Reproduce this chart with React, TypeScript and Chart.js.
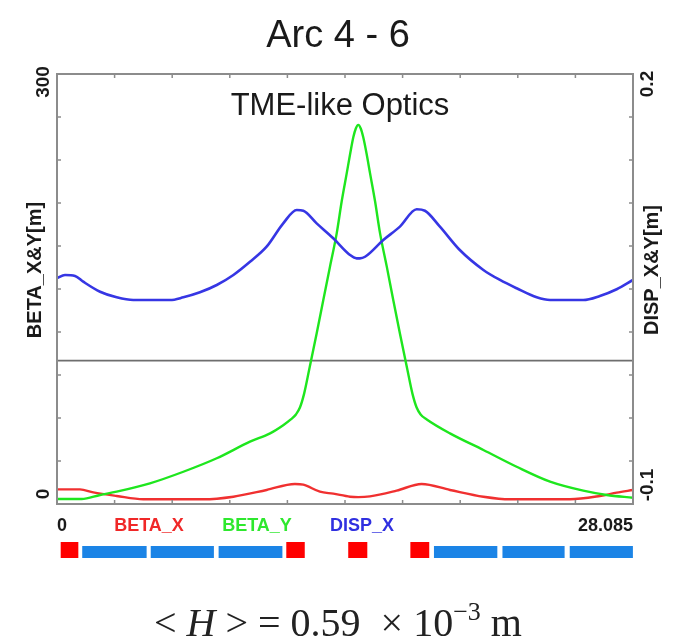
import React, { useEffect, useRef } from 'react';
import { Chart, registerables } from 'chart.js';

Chart.register(...registerables);

const S_MAX = 28.085;

// DISP_X [m] (right axis)
const dispXPos = [0, 0.39, 0.88, 1.28, 2.1, 2.91, 3.72, 5.51, 6.16, 6.97, 7.79, 8.6, 9.41, 10.22, 11.03, 11.69, 12.01, 12.66, 13.47, 14.29, 14.61, 14.77, 15.02, 15.91, 16.72, 17.54, 17.94, 18.67, 19.64, 20.79, 21.6, 22.41, 23.39, 24.04, 25.66, 26.47, 27.29, 28.085];
const dispXVal = [0.0575, 0.0598, 0.0591, 0.0551, 0.0481, 0.0442, 0.0423, 0.0423, 0.0442, 0.0477, 0.0528, 0.0598, 0.069, 0.0795, 0.0958, 0.1051, 0.1046, 0.0958, 0.0854, 0.0737, 0.0714, 0.0714, 0.0725, 0.0842, 0.0935, 0.1056, 0.1046, 0.0935, 0.0772, 0.0633, 0.0563, 0.0505, 0.0442, 0.0423, 0.0423, 0.0451, 0.0498, 0.0563];

// BETA_Y [m] (left axis)
const betaYPos = [0, 1.2, 2.1, 2.91, 4.53, 6.16, 7.79, 9.41, 10.39, 11.03, 11.4, 11.65, 11.85, 12.05, 12.3, 12.66, 12.98, 13.31, 13.64, 13.88, 14.13, 14.29, 14.45, 14.57, 14.69, 14.81, 14.93, 15.1, 15.26, 15.51, 15.75, 16.08, 16.4, 16.72, 17.08, 17.33, 17.53, 17.73, 18.03, 19.16, 20.79, 22.41, 24.04, 25.66, 26.8, 28.085];
const betaYVal = [3.5, 3.5, 6.3, 8.6, 14.4, 22.5, 31.9, 43.5, 49.3, 55, 59, 62.5, 67.5, 77, 94, 119, 142, 165.6, 189, 211, 231, 244, 256, 262, 264.5, 262, 256, 244, 231, 211, 189, 165.6, 142, 119, 94, 77, 67.5, 62.5, 59, 49.3, 37.7, 26, 15.6, 9.3, 6.3, 4.4];

// BETA_X [m] (left axis)
const betaXPos = [0, 1.12, 1.77, 2.91, 4.21, 7.13, 8.6, 10.22, 11.6, 12.01, 12.82, 13.47, 14.29, 14.69, 15.26, 16.56, 17.78, 19.16, 20.79, 22.09, 25.01, 26.47, 27.29, 28.085];
const betaXVal = [10.2, 10.2, 8.1, 5.6, 3.3, 3.3, 5.1, 9.8, 14, 13.5, 8.6, 7.2, 5.1, 4.8, 5.3, 9.3, 14, 9.8, 5.1, 3.3, 3.3, 5.6, 7.9, 9.8];

// Tick positions
const xTickVals = [0, 2.8085, 5.617, 8.4255, 11.234, 14.0425, 16.851, 19.6595, 22.468, 25.2765, 28.085];
const betaTickVals = [0, 30, 60, 90, 120, 150, 180, 210, 240, 270, 300];
const dispTickVals = [-0.1, -0.07, -0.04, -0.01, 0.02, 0.05, 0.08, 0.11, 0.14, 0.17, 0.2];

// Lattice elements (Q = quadrupole, B = bend)
const elemStart = [0.18, 1.23, 4.57, 7.88, 11.18, 14.2, 17.23, 18.38, 21.72, 25.0];
const elemEnd = [1.04, 4.37, 7.65, 10.99, 12.08, 15.13, 18.15, 21.47, 24.75, 28.08];
const elemKind = ['Q', 'B', 'B', 'B', 'Q', 'Q', 'Q', 'B', 'B', 'B'];

const legendLabels = ['BETA_X', 'BETA_Y', 'DISP_X'];
const legendColors = ['#f02828', '#2ee82e', '#3030e0'];
const legendCenters = [149, 257, 362];

const SANS = '"Liberation Sans", Arial, sans-serif';
const SERIF = '"Liberation Serif", "Times New Roman", serif';

function vText(ctx: CanvasRenderingContext2D, text: string, cx: number, cy: number, font: string, color: string) {
  ctx.save();
  ctx.translate(cx, cy);
  ctx.rotate(-Math.PI / 2);
  ctx.font = font;
  ctx.fillStyle = color;
  ctx.textAlign = 'center';
  ctx.textBaseline = 'middle';
  ctx.fillText(text, 0, 0);
  ctx.restore();
}

const decor = {
  id: 'decor',
  beforeDraw(chart: any) {
    const { ctx, width, height } = chart;
    ctx.save();
    ctx.fillStyle = '#ffffff';
    ctx.fillRect(0, 0, width, height);
    ctx.restore();
  },
  afterDatasetsDraw(chart: any) {
    const { ctx, chartArea: a, scales } = chart;
    const x = scales.x;
    const y = scales.y;
    const y2 = scales.y2;
    ctx.save();
    // frame
    ctx.strokeStyle = '#8c8c8c';
    ctx.lineWidth = 2;
    ctx.strokeRect(a.left, a.top, a.right - a.left, a.bottom - a.top);
    // inward ticks
    ctx.lineWidth = 1.5;
    ctx.beginPath();
    xTickVals.forEach((v) => {
      const px = x.getPixelForValue(v);
      ctx.moveTo(px, a.bottom);
      ctx.lineTo(px, a.bottom - 4);
      ctx.moveTo(px, a.top);
      ctx.lineTo(px, a.top + 4);
    });
    betaTickVals.forEach((v) => {
      const py = y.getPixelForValue(v);
      ctx.moveTo(a.left, py);
      ctx.lineTo(a.left + 4, py);
    });
    dispTickVals.forEach((v) => {
      const py = y2.getPixelForValue(v);
      ctx.moveTo(a.right, py);
      ctx.lineTo(a.right - 4, py);
    });
    ctx.stroke();

    // title
    ctx.fillStyle = '#1a1a1a';
    ctx.textAlign = 'center';
    ctx.textBaseline = 'alphabetic';
    ctx.font = `38px ${SANS}`;
    ctx.fillText('Arc 4 - 6', 338, 47);
    ctx.font = `31px ${SANS}`;
    ctx.fillText('TME-like Optics', 340, 115);

    // axis titles and end labels
    vText(ctx, 'BETA_X&Y[m]', 35, 270, `bold 20px ${SANS}`, '#1a1a1a');
    vText(ctx, 'DISP_X&Y[m]', 652, 270, `bold 20px ${SANS}`, '#1a1a1a');
    vText(ctx, String(betaTickVals[betaTickVals.length - 1]), 44, 82, `bold 19px ${SANS}`, '#1a1a1a');
    vText(ctx, String(betaTickVals[0]), 44, 494, `bold 19px ${SANS}`, '#1a1a1a');
    vText(ctx, String(dispTickVals[dispTickVals.length - 1]), 648, 84, `bold 19px ${SANS}`, '#1a1a1a');
    vText(ctx, String(dispTickVals[0]), 648, 485, `bold 19px ${SANS}`, '#1a1a1a');

    // bottom axis labels and legend
    ctx.font = `bold 18px ${SANS}`;
    ctx.textBaseline = 'alphabetic';
    ctx.fillStyle = '#1a1a1a';
    ctx.textAlign = 'left';
    ctx.fillText('0', x.getPixelForValue(0), 531);
    ctx.textAlign = 'right';
    ctx.fillText(String(S_MAX), x.getPixelForValue(S_MAX), 531);
    ctx.textAlign = 'center';
    legendLabels.forEach((l, i) => {
      ctx.fillStyle = legendColors[i];
      ctx.fillText(l, legendCenters[i], 531);
    });

    // lattice elements
    elemStart.forEach((s, i) => {
      const x0 = x.getPixelForValue(s);
      const x1 = x.getPixelForValue(elemEnd[i]);
      if (elemKind[i] === 'Q') {
        ctx.fillStyle = '#ff0000';
        ctx.fillRect(x0, 542, x1 - x0, 16);
      } else {
        ctx.fillStyle = '#1b84e6';
        ctx.fillRect(x0, 546, x1 - x0, 12);
      }
    });

    // formula
    const parts = [
      { t: '< ', f: `40px ${SERIF}`, dy: 0 },
      { t: 'H', f: `italic 40px ${SERIF}`, dy: 0 },
      { t: ' > = 0.59  × 10', f: `40px ${SERIF}`, dy: 0 },
      { t: '−3', f: `26px ${SERIF}`, dy: -16 },
      { t: ' m', f: `40px ${SERIF}`, dy: 0 },
    ];
    let total = 0;
    parts.forEach((p) => {
      ctx.font = p.f;
      total += ctx.measureText(p.t).width;
    });
    let cx = 338 - total / 2;
    ctx.textAlign = 'left';
    ctx.fillStyle = '#222222';
    parts.forEach((p) => {
      ctx.font = p.f;
      ctx.fillText(p.t, cx, 636 + p.dy);
      cx += ctx.measureText(p.t).width;
    });
    ctx.restore();
  },
};

function zeroFit(scale: any) {
  if (scale.isHorizontal()) scale.height = 0;
  else scale.width = 0;
}

export default function App() {
  const ref = useRef<HTMLCanvasElement>(null);
  useEffect(() => {
    document.body.style.margin = '0';
    if (!ref.current) return;
    const pts = (xs: number[], ys: number[]) => xs.map((s, i) => ({ x: s, y: ys[i] }));
    const axisCommon = {
      display: true,
      grid: { display: false, drawTicks: false },
      ticks: { display: false },
      border: { display: false },
      afterFit: zeroFit,
    };
    const chart = new Chart(ref.current, {
      type: 'line',
      data: {
        datasets: [
          {
            label: 'DISP_X',
            data: pts(dispXPos, dispXVal),
            yAxisID: 'y2',
            borderColor: '#3636e4',
            borderWidth: 2.6,
            pointRadius: 0,
            cubicInterpolationMode: 'monotone',
          },
          {
            label: 'BETA_Y',
            data: pts(betaYPos, betaYVal),
            yAxisID: 'y',
            borderColor: '#1ee61e',
            borderWidth: 2.4,
            pointRadius: 0,
            cubicInterpolationMode: 'monotone',
          },
          {
            label: 'BETA_X',
            data: pts(betaXPos, betaXVal),
            yAxisID: 'y',
            borderColor: '#f03030',
            borderWidth: 2.4,
            pointRadius: 0,
            cubicInterpolationMode: 'monotone',
          },
          {
            label: 'zero',
            data: [{ x: 0, y: 0 }, { x: S_MAX, y: 0 }],
            yAxisID: 'y2',
            borderColor: '#6e6e6e',
            borderWidth: 1.6,
            pointRadius: 0,
          },
        ],
      } as any,
      options: {
        animation: false,
        responsive: false,
        devicePixelRatio: 1,
        events: [],
        layout: { padding: { left: 57, right: 40, top: 74, bottom: 138 } },
        plugins: { legend: { display: false }, tooltip: { enabled: false }, title: { display: false } },
        scales: {
          x: { ...axisCommon, type: 'linear', position: 'bottom', min: 0, max: S_MAX },
          y: { ...axisCommon, type: 'linear', position: 'left', min: 0, max: 300 },
          y2: { ...axisCommon, type: 'linear', position: 'right', min: -0.1, max: 0.2 },
        },
      } as any,
      plugins: [decor],
    });
    return () => chart.destroy();
  }, []);
  return (
    <div style={{ width: 673, height: 642 }}>
      <canvas ref={ref} width={673} height={642} style={{ width: 673, height: 642, display: 'block' }} />
    </div>
  );
}
